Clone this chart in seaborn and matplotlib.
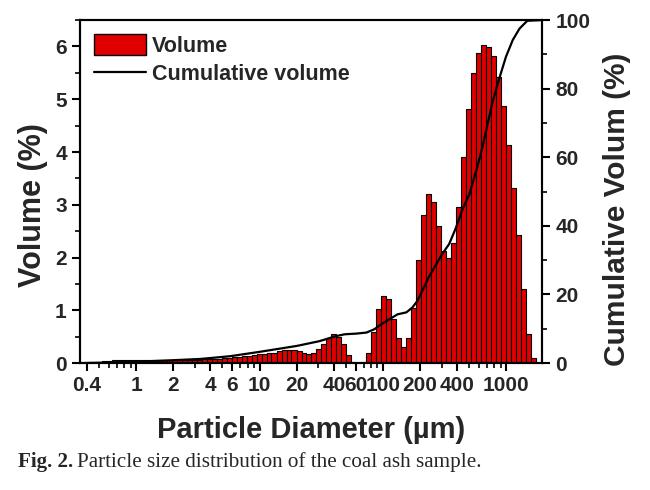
import numpy as np
import seaborn as sns
import matplotlib.pyplot as plt
from matplotlib.patches import Patch
from matplotlib.lines import Line2D
from matplotlib.ticker import FixedLocator, FixedFormatter, LogLocator, NullFormatter, MultipleLocator

# size classes (bin centres, um)
diameter = [0.381, 0.418, 0.459, 0.504, 0.553, 0.607, 0.667, 0.731, 0.803, 0.881,
            0.967, 1.06, 1.16, 1.28, 1.40, 1.54, 1.69, 1.86, 2.04, 2.24,
            2.45, 2.69, 2.96, 3.24, 3.56, 3.91, 4.29, 4.71, 5.16, 5.67,
            6.22, 6.83, 7.49, 8.22, 9.03, 9.91, 10.9, 11.9, 13.1, 14.4,
            15.8, 17.3, 19.0, 20.9, 22.9, 25.1, 27.6, 30.3, 33.2, 36.5,
            40.0, 43.9, 48.2, 52.9, 58.1, 63.7, 70.0, 76.8, 84.3, 92.5,
            102, 111, 122, 134, 147, 162, 177, 195, 214, 235,
            258, 283, 310, 340, 374, 410, 450, 494, 542, 595,
            653, 717, 787, 863, 947, 1040, 1141, 1253, 1375, 1509,
            1656]

# volume in each class (%)
volume = [0.01, 0.02, 0.03, 0.03, 0.04, 0.04, 0.05, 0.05, 0.05, 0.05,
          0.05, 0.05, 0.05, 0.05, 0.05, 0.05, 0.05, 0.06, 0.06, 0.06,
          0.06, 0.06, 0.06, 0.06, 0.07, 0.07, 0.08, 0.08, 0.09, 0.10,
          0.11, 0.12, 0.13, 0.14, 0.16, 0.17, 0.18, 0.19, 0.20, 0.22,
          0.24, 0.25, 0.25, 0.23, 0.20, 0.17, 0.20, 0.26, 0.37, 0.47,
          0.55, 0.50, 0.36, 0.15, 0.03, 0.00, 0.02, 0.20, 0.59, 1.03,
          1.28, 1.22, 0.84, 0.48, 0.31, 0.48, 1.05, 1.96, 2.80, 3.20,
          3.05, 2.59, 2.13, 2.00, 2.27, 2.96, 3.90, 4.82, 5.50, 5.87,
          6.02, 5.99, 5.82, 5.43, 4.88, 4.13, 3.31, 2.42, 1.40, 0.55,
          0.09]

# cumulative curve
cum_diameter = [0.353, 0.51, 0.98, 1.88, 3.3, 5.76, 10.1, 20, 30.6, 42, 49, 61,
                73.5, 85.5, 94, 113, 131, 155, 173, 190, 208, 238, 271, 302,
                344, 389, 442, 499, 580, 641, 772, 877, 993, 1128, 1278, 1478, 1950]
cum_volume = [0, 0.1, 0.4, 0.8, 1.2, 2.0, 3.3, 5.0, 6.4, 7.9, 8.4, 8.6,
              8.9, 9.9, 11.0, 12.8, 14.2, 14.8, 16.2, 18.1, 21, 25.4, 28.9, 31.8,
              34.7, 39.3, 44.9, 49, 57, 63, 76, 83, 89.3, 94.2, 97.5, 99.8, 100]

xtick_values = [0.4, 1, 2, 4, 6, 10, 20, 40, 60, 100, 200, 400, 1000]
xtick_labels = ['0.4', '1', '2', '4', '6', '10', '20', '40', '60', '100', '200', '400', '1000']

sns.set_style('ticks')
plt.rcParams['font.family'] = ['Liberation Sans', 'DejaVu Sans']
plt.rcParams['font.weight'] = 'bold'

bar_color = '#e00000'

fig = plt.figure(figsize=(6.5, 4.9), dpi=100)
ax = fig.add_axes([0.123, 0.259, 0.711, 0.700])

# bin edges half way between class centres (log space)
logd = np.log10(diameter)
mids = (logd[1:] + logd[:-1]) / 2
edges = np.concatenate([[2 * logd[0] - mids[0]], mids, [2 * logd[-1] - mids[-1]]])

sns.histplot(x=diameter, weights=volume, bins=list(edges), log_scale=True, ax=ax,
             color=bar_color, edgecolor='black', linewidth=0.8, alpha=1)
ax.set_xlim(0.35, 1950)
ax.set_ylim(0, 6.5)

ax2 = ax.twinx()
sns.lineplot(x=cum_diameter, y=cum_volume, ax=ax2, color='black', linewidth=1.6)
ax2.set_ylim(0, 100)
ax2.set_xlim(0.35, 1950)

ax.xaxis.set_major_locator(FixedLocator(xtick_values))
ax.xaxis.set_major_formatter(FixedFormatter(xtick_labels))
ax.xaxis.set_minor_locator(LogLocator(subs=np.arange(2, 10), numticks=20))
ax.xaxis.set_minor_formatter(NullFormatter())
ax.yaxis.set_major_locator(MultipleLocator(1))
ax.yaxis.set_minor_locator(MultipleLocator(0.5))
ax2.yaxis.set_major_locator(MultipleLocator(20))
ax2.yaxis.set_minor_locator(MultipleLocator(10))

for a in (ax, ax2):
    a.tick_params(which='major', direction='out', length=6, width=1.5, labelsize=15, color='black')
    a.tick_params(which='minor', direction='out', length=3.5, width=1.2, color='black')
    for s in a.spines.values():
        s.set_linewidth(1.5)
        s.set_color('black')

ax.set_xlabel('Particle Diameter (\u00b5m)', fontsize=21, fontweight='bold', labelpad=15)
ax.set_ylabel('Volume (%)', fontsize=22, fontweight='bold')
ax2.set_ylabel('Cumulative Volum (%)', fontsize=21.5, fontweight='bold')
ax.yaxis.set_label_coords(-0.069, 0.46)
ax2.yaxis.set_label_coords(1.132, 0.449)

handles = [Patch(facecolor=bar_color, edgecolor='black', label='Volume'),
           Line2D([], [], color='black', lw=1.6, label='Cumulative volume')]
ax2.legend(handles=handles, loc='upper left', frameon=False,
           prop={'weight': 'bold', 'size': 15.5}, handlelength=2.4, handleheight=1.1,
           handletextpad=0.3, labelspacing=0.28, borderaxespad=0.25)

# caption under the chart
cap = fig.text(18 / 650, 1 - 462 / 490, 'Fig. 2.', family='Liberation Serif',
               weight='bold', size=15.2, va='center')
fig.canvas.draw()
bb = cap.get_window_extent()
fig.text((bb.x1 + 4) / 650, 1 - 462 / 490, 'Particle size distribution of the coal ash sample.',
         family='Liberation Serif', weight='normal', size=15.2, va='center')

fig.savefig('out.png', dpi=100)
